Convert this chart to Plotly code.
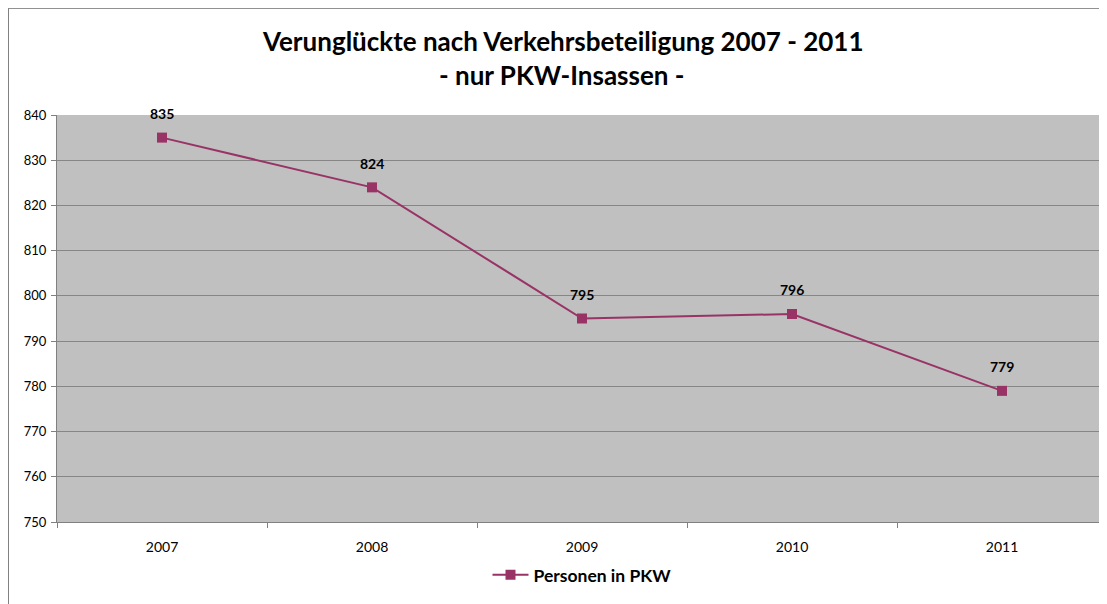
import plotly.graph_objects as go

years = ["2007", "2008", "2009", "2010", "2011"]
persons_pkw = [835, 824, 795, 796, 779]
series_name = "Personen in PKW"
title_line1 = "Verunglückte nach Verkehrsbeteiligung 2007 - 2011"
title_line2 = "- nur PKW-Insassen -"
y_ticks = [750, 760, 770, 780, 790, 800, 810, 820, 830, 840]

color = "#993366"
font_fam = "Lato, 'Open Sans', sans-serif"

fig = go.Figure()
fig.add_trace(go.Scatter(
    x=years, y=persons_pkw, mode="lines+markers", name=f"<b>{series_name}</b>",
    line=dict(color=color, width=2),
    marker=dict(symbol="square", size=10, color=color),
))

annotations = []
for i, v in enumerate(persons_pkw):
    annotations.append(dict(x=i, y=v, xref="x", yref="y", text=f"<b>{v}</b>",
                            showarrow=False, yshift=24,
                            font=dict(family=font_fam, size=14, color="black")))
annotations.append(dict(x=0.481, y=1.0, xref="paper", yref="paper", yanchor="middle",
                        xanchor="center", yshift=74, showarrow=False,
                        text=f"<b>{title_line1}</b>",
                        font=dict(family=font_fam, size=26, color="black")))
annotations.append(dict(x=0.481, y=1.0, xref="paper", yref="paper", yanchor="middle",
                        xanchor="center", yshift=40, showarrow=False,
                        text=f"<b>{title_line2}</b>",
                        font=dict(family=font_fam, size=26, color="black")))

fig.update_layout(
    width=1099, height=596,
    margin=dict(l=49, r=0, t=107, b=82, autoexpand=False),
    paper_bgcolor="white", plot_bgcolor="#c0c0c0",
    showlegend=True,
    legend=dict(orientation="h", x=0.5, xanchor="center", y=-0.13, yanchor="middle",
                font=dict(family=font_fam, size=17.5, color="black"),
                itemwidth=36),
    annotations=annotations,
    shapes=[
        dict(type="line", xref="paper", yref="paper", x0=-0.0467, x1=1.01, y0=1.262, y1=1.262,
             line=dict(color="#808080", width=1)),
        dict(type="line", xref="paper", yref="paper", x0=-0.0462, x1=-0.0462, y0=1.262, y1=-0.21,
             line=dict(color="#808080", width=1)),
    ],
    xaxis=dict(type="category", tickson="boundaries", ticks="outside", ticklen=5,
               tickcolor="#808080", showgrid=False, showline=True, linecolor="#808080",
               linewidth=1, range=[-0.5, 4.5], ticklabelstandoff=12,
               tickfont=dict(family=font_fam, size=14, color="black")),
    yaxis=dict(range=[750, 840], tickvals=y_ticks, ticks="outside", ticklen=5,
               tickcolor="#808080", showgrid=True, gridcolor="#868686", gridwidth=1,
               showline=True, linecolor="#808080", linewidth=1, zeroline=False,
               ticklabelstandoff=2,
               tickfont=dict(family=font_fam, size=13, color="black")),
)

fig.write_html("out.html")
